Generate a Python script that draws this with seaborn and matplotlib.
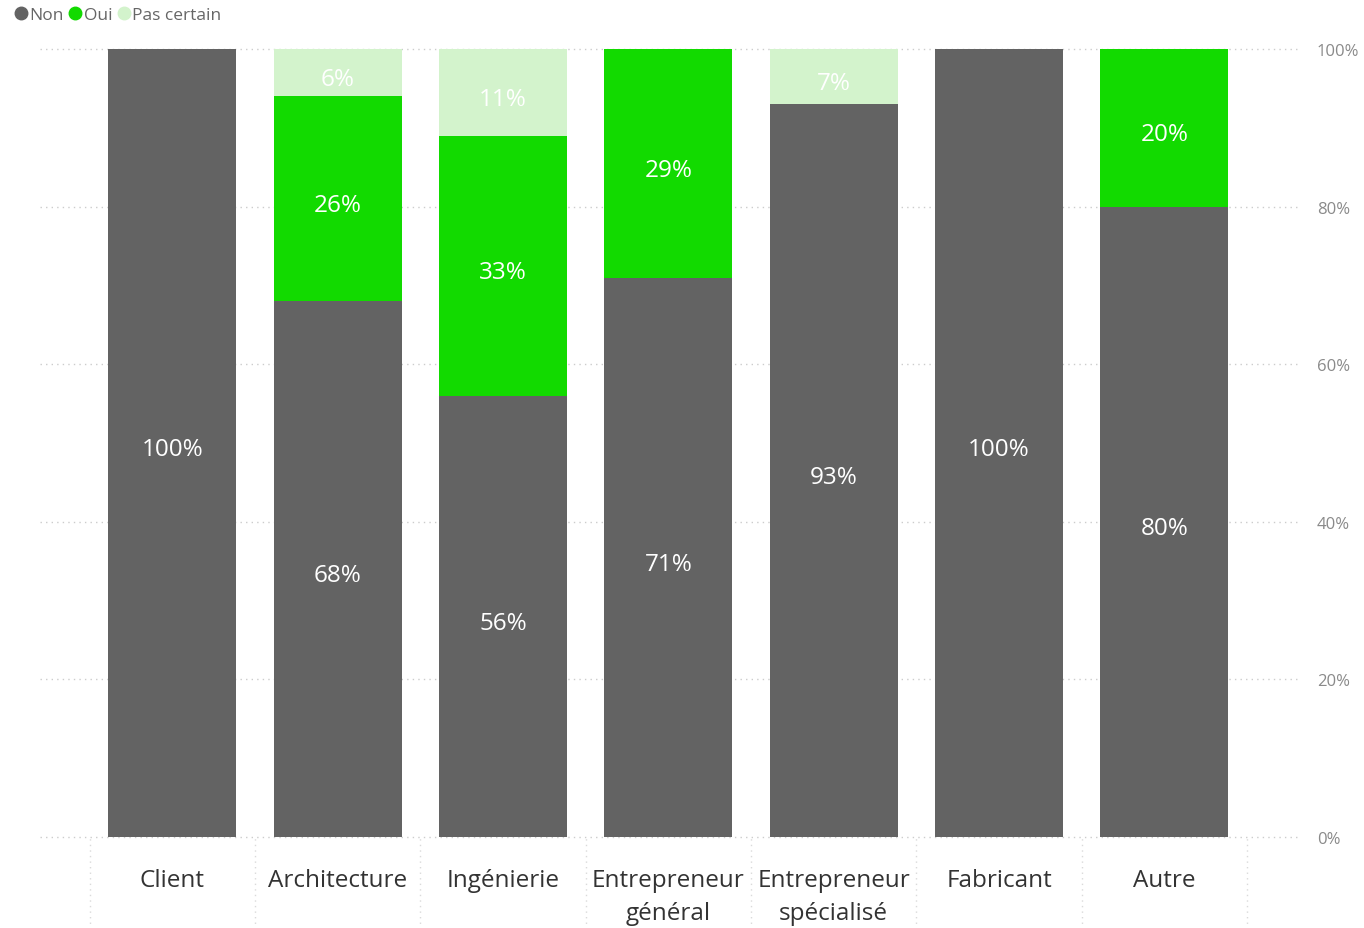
import matplotlib
matplotlib.use("Agg")
import matplotlib.pyplot as plt
from matplotlib.lines import Line2D
from matplotlib.ticker import FuncFormatter
import numpy as np
import pandas as pd
import seaborn as sns

categories = ["Client", "Architecture", "Ingénierie", "Entrepreneur\ngénéral",
              "Entrepreneur\nspécialisé", "Fabricant", "Autre"]
non = [100, 68, 56, 71, 93, 100, 80]
oui = [0, 26, 33, 29, 0, 0, 20]
pas_certain = [0, 6, 11, 0, 7, 0, 0]
series_names = ["Non", "Oui", "Pas certain"]
colors = ["#636363", "#12DA00", "#D3F3CC"]
y_ticks = [0, 20, 40, 60, 80, 100]

sns.set_theme(style="white")
plt.rcParams["font.family"] = ["Open Sans", "DejaVu Sans"]

df = pd.DataFrame({"cat": categories, "Non": non, "Oui": oui, "Pas certain": pas_certain})

fig = plt.figure(figsize=(13.64, 9.29), dpi=100)
ax = fig.add_axes([40 / 1364, 1 - 838 / 929, 1260 / 1364, 788 / 929])

bottom = np.zeros(len(categories))
for name, col in zip(series_names, colors):
    vals = df[name].to_numpy(dtype=float)
    sns.barplot(data=df, x="cat", y=name, color=col, width=0.775,
                bottom=bottom, ax=ax, saturation=1, linewidth=0, zorder=3)
    for i, v in enumerate(vals):
        if v > 0:
            ax.text(i, bottom[i] + v / 2 - 0.8, f"{v:.0f}%", ha="center", va="center",
                    color="white", fontsize=17.5, zorder=4)
    bottom = bottom + vals

ax.set_xlim(-0.8, 6.82)
ax.set_ylim(0, 100)
ax.set_xlabel("")
ax.set_ylabel("")
ax.yaxis.tick_right()
ax.set_yticks(y_ticks)
ax.yaxis.set_major_formatter(FuncFormatter(lambda v, p: f"{v:.0f}%"))
ax.tick_params(axis="y", labelsize=12, labelcolor="#8a8a8a", length=0, pad=12)
ax.tick_params(axis="x", labelsize=17.5, labelcolor="#333333", length=0, pad=22)
for lbl in ax.get_xticklabels():
    lbl.set_linespacing(1.55)
for s in ax.spines.values():
    s.set_visible(False)
ax.grid(False)
for t in y_ticks:
    ax.axhline(t, color="#cccccc", lw=1, ls=(0, (1, 3)), zorder=1, clip_on=False)
for b in np.arange(-0.5, 7.0, 1.0):
    ax.axvline(b, ymin=-0.12, ymax=0, color="#dadada", lw=1, ls=(0, (1, 3)),
               clip_on=False, zorder=1)

handles = [Line2D([0], [0], marker="o", ls="", markersize=9, markerfacecolor=c,
                  markeredgecolor=c) for c in colors]
fig.legend(handles, series_names, loc="upper left", bbox_to_anchor=(0.003, 1.003),
           ncol=3, frameon=False, fontsize=12.5, handlelength=0.7, handletextpad=0.15,
           columnspacing=0.3, labelcolor="#666666", borderaxespad=0.2)

fig.savefig("out.png", dpi=100, facecolor="white")
